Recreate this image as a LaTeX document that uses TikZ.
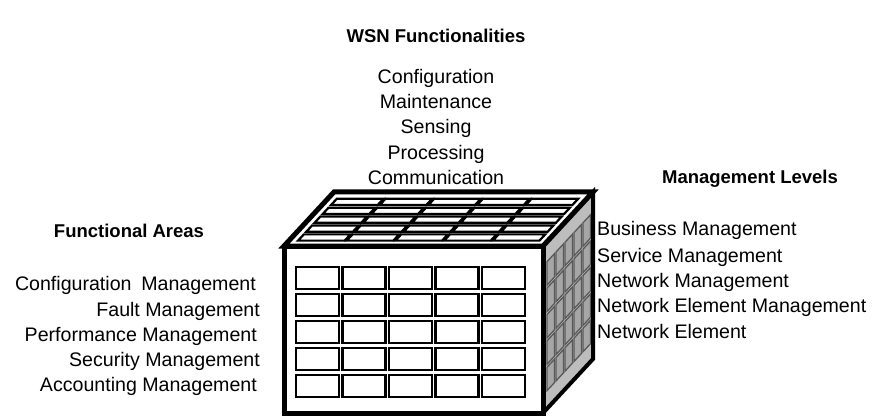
\documentclass[tikz,border=0pt]{standalone}
\usepackage{fontspec}
\setmainfont{Liberation Sans}
\usetikzlibrary{calc}
\begin{document}
\begin{tikzpicture}[x=1pt,y=-1pt,
  lbl/.style={inner sep=0pt,anchor=base,font=\fontsize{19.6}{22}\selectfont},
  head/.style={inner sep=0pt,anchor=base,font=\fontsize{18.5}{22}\selectfont\bfseries},
  frontcell/.style={draw=black,line width=2.2pt,fill=white},
  topcell/.style={draw=black,line width=2.2pt,fill=white},
  sidecell/.style={draw=black!65,line width=1.3pt,fill=gray!70},
  edge/.style={draw=black,line width=5pt,line join=miter}]
\useasboundingbox (0,0) rectangle (884,417);

% corners of the cube
\coordinate (flt) at (284,246);
\coordinate (frt) at (543,246);
\coordinate (flb) at (284,413);
\coordinate (frb) at (543,413);
\coordinate (blt) at ($(flt)+(50,-54)$);
\coordinate (brt) at ($(frt)+(50,-54)$);
\coordinate (brb) at ($(frb)+(50,-54)$);

% right face: management levels seen at an angle
\fill[gray!52] (frt) -- (brt) -- (brb) -- (frb) -- cycle;
\foreach \i in {0,...,4}{
  \foreach \j in {0,...,4}{
    \pgfmathsetmacro{\aa}{0.08+\i*0.18}
    \pgfmathsetmacro{\ab}{\aa+0.15}
    \pgfmathsetmacro{\ba}{0.12+\j*0.158}
    \pgfmathsetmacro{\bb}{\ba+0.14}
    \path[sidecell] ($(frt)+\aa*(50,-54)+\ba*(0,167)$) -- ($(frt)+\ab*(50,-54)+\ba*(0,167)$)
      -- ($(frt)+\ab*(50,-54)+\bb*(0,167)$) -- ($(frt)+\aa*(50,-54)+\bb*(0,167)$) -- cycle;
  }
}
\draw[line width=4pt,line join=miter] (frt) -- (brt) -- (brb) -- (frb);

% top face: WSN functionalities
\filldraw[fill=white,line width=5pt,line join=miter] (flt) -- (blt) -- (brt) -- (frt) -- cycle;
\foreach \i in {0,...,4}{
  \foreach \j in {0,...,4}{
    \pgfmathsetmacro{\ua}{0.035+\i*0.188}
    \pgfmathsetmacro{\ub}{\ua+0.18}
    \pgfmathsetmacro{\va}{0.1+\j*0.165}
    \pgfmathsetmacro{\vb}{\va+0.115}
    \path[topcell] ($(flt)+\ua*(259,0)+\va*(50,-54)$) -- ($(flt)+\ub*(259,0)+\va*(50,-54)$)
      -- ($(flt)+\ub*(259,0)+\vb*(50,-54)$) -- ($(flt)+\ua*(259,0)+\vb*(50,-54)$) -- cycle;
  }
}

% front face: functional areas
\filldraw[fill=white,line width=5pt] (flt) rectangle (frb);
\foreach \i in {0,...,4}{
  \foreach \j in {0,...,4}{
    \draw[frontcell] ({296+\i*46.5},{267+\j*27}) rectangle ++(43,22);
  }
}

% labels (y values are baselines)
\node[head] (wsn) at (436,43) {WSN Functionalities};
\node[lbl] (f1) at (436,84) {Configuration};
\node[lbl] (f2) at (436,109) {Maintenance};
\node[lbl] (f3) at (436,134) {Sensing};
\node[lbl] (f4) at (436,160) {Processing};
\node[lbl] (f5) at (436,185) {Communication};

\node[head] (areas) at (129,237) {Functional Areas};
\node[lbl,anchor=base east] (a1) at (256,290) {Configuration\hspace{0.5em}Management};
\node[lbl,anchor=base east] (a2) at (260,316) {Fault Management};
\node[lbl,anchor=base east] (a3) at (257,341) {Performance Management};
\node[lbl,anchor=base east] (a4) at (260,366) {Security Management};
\node[lbl,anchor=base east] (a5) at (257,391) {Accounting Management};

\node[head] (levels) at (750,184) {Management Levels};
\node[lbl,anchor=base west] (l1) at (597,236) {Business Management};
\node[lbl,anchor=base west] (l2) at (597,262) {Service Management};
\node[lbl,anchor=base west] (l3) at (597,287) {Network Management};
\node[lbl,anchor=base west] (l4) at (597,312) {Network Element Management};
\node[lbl,anchor=base west] (l5) at (597,338) {Network Element};
\end{tikzpicture}
\end{document}
